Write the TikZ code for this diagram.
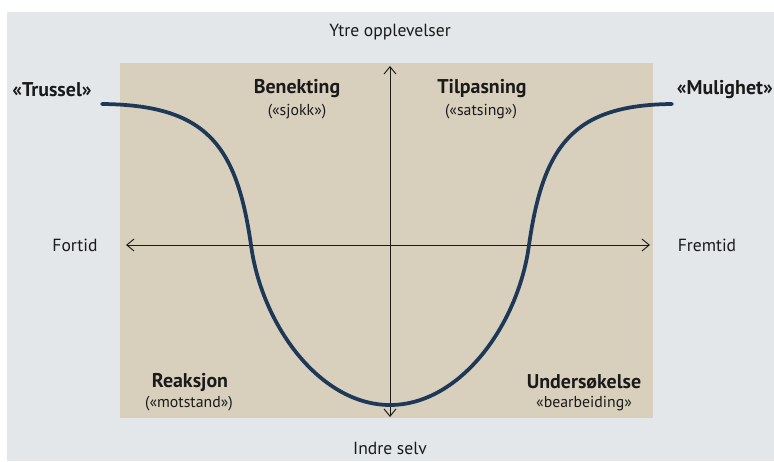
\documentclass[tikz,border=0pt]{standalone}
\usepackage{fontspec}
\setmainfont{PT Sans}
\usepackage{xcolor}
\usetikzlibrary{arrows.meta,positioning}
\definecolor{pagegray}{HTML}{E3E7E9}
\definecolor{panelbeige}{HTML}{D9CFBD}
\definecolor{curveblue}{HTML}{1E3957}
\definecolor{inkblack}{HTML}{1A1A1A}

\begin{document}
\begin{tikzpicture}[
  axis/.style={inkblack,line width=0.8pt,-{Straight Barb[length=2.2mm,width=3.6mm]}},
  phase/.style={font=\fontsize{17}{19}\selectfont\bfseries,inkblack},
  sub/.style={font=\fontsize{13.5}{15}\selectfont,inkblack},
  pole/.style={font=\fontsize{15}{17}\selectfont,inkblack},
  every node/.style={inner sep=1pt}
]
  \useasboundingbox (-11.7,-6.48) rectangle (11.52,7.35);
  \fill[white] (-11.7,-6.48) rectangle (11.52,7.35);
  \fill[pagegray] (-11.49,-6.48) rectangle (11.52,6.99);
  \fill[panelbeige] (-8.1,-5.19) rectangle (7.89,5.46);

  \coordinate (origin) at (0,0);
  \coordinate (up) at (0,5.37);
  \coordinate (down) at (0,-5.16);
  \coordinate (past) at (-7.92,0);
  \coordinate (future) at (7.8,0);

  \draw[axis] (origin) -- (up);
  \draw[axis] (origin) -- (down);
  \draw[axis] (origin) -- (past);
  \draw[axis] (origin) -- (future);

  \draw[curveblue,line width=3.2pt,line cap=round]
    (-8.64,4.23) .. controls (-5.5,4.2) and (-4.6,3) .. (-4.17,0)
    .. controls (-3.85,-2.4) and (-2.1,-4.8) .. (0,-4.8)
    .. controls (2.1,-4.8) and (3.85,-2.4) .. (4.17,0)
    .. controls (4.6,3) and (5.5,4.2) .. (8.46,4.23);

  \node[pole] (outer) at (0,6.39) {Ytre opplevelser};
  \node[pole] (inner) at (0,-6.1) {Indre selv};
  \node[pole] (fortid) at (-9.45,0) {Fortid};
  \node[pole] (fremtid) at (9.51,0) {Fremtid};
  \node[phase] (trussel) at (-10.14,4.65) {«Trussel»};
  \node[phase,anchor=west,inner sep=0pt] (mulighet) at (8.6,4.65) {«Mulighet»};

  \node[phase] (benekting) at (-2.79,4.7) {Benekting};
  \node[sub] (sjokk) at (-2.79,3.99) {(«sjokk»)};
  \node[phase] (tilpasning) at (2.76,4.7) {Tilpasning};
  \node[sub] (satsing) at (2.73,3.99) {(«satsing»)};
  \node[phase] (reaksjon) at (-6.0,-4.11) {Reaksjon};
  \node[sub] (motstand) at (-6.03,-4.77) {(«motstand»)};
  \node[phase] (undersokelse) at (5.82,-4.11) {Undersøkelse};
  \node[sub] (bearbeiding) at (5.82,-4.77) {«bearbeiding»};
\end{tikzpicture}
\end{document}
